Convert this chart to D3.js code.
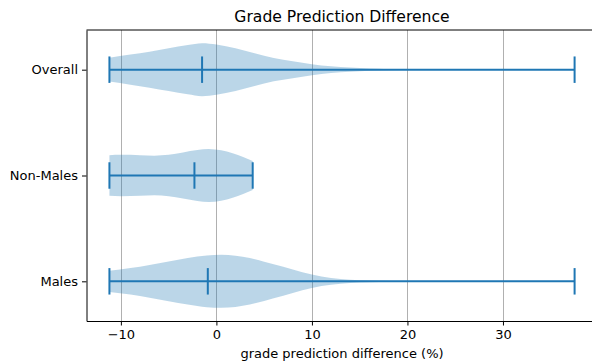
<!DOCTYPE html>
<html>
<head>
<meta charset="utf-8">
<script src="https://cdn.jsdelivr.net/npm/d3@7"></script>
<style>
  body { margin: 0; background: #fff; }
  svg text { font-family: "DejaVu Sans", sans-serif; fill: #000; }
</style>
</head>
<body>
<svg id="chart" width="592" height="362"></svg>
<script>
// categories bottom -> top (positions 1, 2, 3)
var categories = ["Males", "Non-Males", "Overall"];
var mins = [-11.2, -11.2, -11.2];
var maxs = [37.5, 3.8, 37.5];
var medians = [-0.9, -2.3, -1.5];

// density profiles (value, relative half width)
var malesGrid = [-11.2, -9, -7, -5, -3, -1, 0.5, 2, 3.5, 5, 7, 9, 11, 13, 15, 17, 20, 26, 37.5];
var malesDensity = [0.4, 0.5, 0.62, 0.75, 0.88, 0.98, 1.0, 0.97, 0.88, 0.74, 0.55, 0.34, 0.18, 0.09, 0.045, 0.022, 0.01, 0.004, 0.003];

var nonMalesGrid = [-11.2, -10, -8, -6.5, -5, -3.5, -2, -0.8, 0.5, 1.7, 2.8, 3.8];
var nonMalesDensity = [0.77, 0.78, 0.77, 0.75, 0.78, 0.87, 0.96, 1.0, 0.95, 0.84, 0.7, 0.55];

var overallGrid = [-11.2, -9, -7, -5, -3, -1.5, 0, 2, 4, 6, 8, 10, 12, 14, 16, 18, 21, 26, 37.5];
var overallDensity = [0.45, 0.57, 0.68, 0.81, 0.93, 1.0, 0.95, 0.81, 0.62, 0.44, 0.32, 0.21, 0.13, 0.08, 0.04, 0.02, 0.01, 0.005, 0.003];

var xTicks = [-10, 0, 10, 20, 30];

var profiles = [
    malesGrid.map(function(v, i) { return [v, malesDensity[i]]; }),
    nonMalesGrid.map(function(v, i) { return [v, nonMalesDensity[i]]; }),
    overallGrid.map(function(v, i) { return [v, overallDensity[i]]; })
];

var blue = "#1f77b4";
var svg = d3.select("#chart");

var x = d3.scaleLinear().domain([-13.6, 39.95]).range([86.5, 598]);
var y = d3.scaleLinear().domain([0.625, 3.375]).range([321, 30]);
var halfW = 0.25, capW = 0.125;

// grid
svg.append("g")
    .selectAll("line")
    .data(xTicks)
    .enter()
    .append("line")
        .attr("x1", function(d) { return Math.round(x(d)) + 0.5; })
        .attr("x2", function(d) { return Math.round(x(d)) + 0.5; })
        .attr("y1", 30).attr("y2", 321)
        .attr("stroke", "#b0b0b0")
        .attr("stroke-width", 1);

// violin bodies
var area = d3.area()
    .curve(d3.curveMonotoneX);

svg.append("g")
    .selectAll("path")
    .data(profiles)
    .enter()
    .append("path")
        .attr("d", function(prof, i) {
            var pos = i + 1;
            return area
                .x(function(d) { return x(d[0]); })
                .y0(function(d) { return y(pos - halfW * d[1]); })
                .y1(function(d) { return y(pos + halfW * d[1]); })(prof);
        })
        .attr("fill", blue)
        .attr("fill-opacity", 0.3);

// extrema bars, caps and medians
var lines = svg.append("g").attr("stroke", blue).attr("stroke-width", 2);
categories.forEach(function(c, i) {
    var pos = i + 1;
    lines.append("line")
        .attr("x1", x(mins[i])).attr("x2", x(maxs[i]))
        .attr("y1", y(pos)).attr("y2", y(pos));
    [mins[i], maxs[i], medians[i]].forEach(function(v) {
        lines.append("line")
            .attr("x1", x(v)).attr("x2", x(v))
            .attr("y1", y(pos - capW)).attr("y2", y(pos + capW));
    });
});

// axes
var xAxis = svg.append("g")
    .attr("transform", "translate(0,321)")
    .call(d3.axisBottom(x).tickValues(xTicks).tickSize(4.5).tickPadding(4).tickSizeOuter(0));
var yAxis = svg.append("g")
    .attr("transform", "translate(86.5,0)")
    .call(d3.axisLeft(y).tickValues([1, 2, 3])
        .tickFormat(function(d) { return categories[d - 1]; })
        .tickSize(4.5).tickPadding(4).tickSizeOuter(0));

[xAxis, yAxis].forEach(function(a) {
    a.selectAll("text").style("font-size", "13px").style("font-family", "DejaVu Sans");
    a.selectAll("line").attr("stroke", "#000").attr("stroke-width", 1);
    a.select(".domain").attr("stroke", "#000").attr("stroke-width", 1);
});

// top and right spines
svg.append("line").attr("x1", 86.5).attr("x2", 598).attr("y1", 30).attr("y2", 30)
    .attr("stroke", "#000").attr("stroke-width", 1);

svg.append("text")
    .attr("x", 342).attr("y", 22)
    .attr("text-anchor", "middle")
    .style("font-size", "15.6px")
    .text("Grade Prediction Difference");

svg.append("text")
    .attr("x", 342).attr("y", 358)
    .attr("text-anchor", "middle")
    .style("font-size", "13px")
    .text("grade prediction difference (%)");
</script>
</body>
</html>
